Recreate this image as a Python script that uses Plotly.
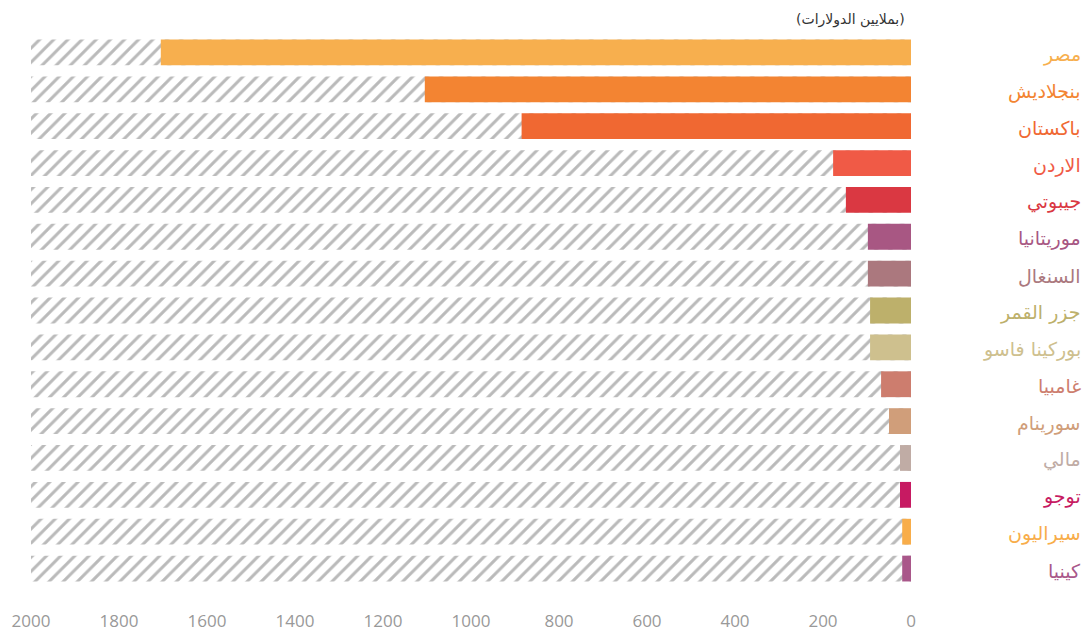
import plotly.graph_objects as go

# Countries (top to bottom), values in millions of dollars
countries = ["مصر", "بنجلاديش", "باكستان", "الاردن", "جيبوتي", "موريتانيا", "السنغال",
             "جزر القمر", "بوركينا فاسو", "غامبيا", "سورينام", "مالي", "توجو", "سيراليون", "كينيا"]
values = [1705, 1105, 885, 177, 148, 98, 98, 93, 93, 68, 50, 25, 25, 20, 20]
colors = ["#F7AF4E", "#F38432", "#F06832", "#F05A46", "#DA3842", "#A85783", "#AB787E",
          "#BDB06B", "#CEC08E", "#CD7D6E", "#D09E7A", "#C0ACA5", "#C71A62", "#F8AD4A", "#A9578A"]
axis_max = 2000
tick_values = [2000, 1800, 1600, 1400, 1200, 1000, 800, 600, 400, 200, 0]
unit_label = "(بملايين الدولارات)"

fig = go.Figure()

# hatched full-length background bars
fig.add_trace(go.Bar(
    y=countries, x=[axis_max] * len(countries), orientation="h",
    width=0.7,
    marker=dict(color="white", line=dict(width=0),
                pattern=dict(shape="/", fgcolor="#bababa", bgcolor="white",
                             size=10, solidity=0.3, fillmode="replace")),
    hoverinfo="skip", showlegend=False,
))

# value bars
fig.add_trace(go.Bar(
    y=countries, x=values, orientation="h",
    width=0.7,
    marker=dict(color=colors, line=dict(width=0)),
    showlegend=False,
))

# country labels on the right
for c, col in zip(countries, colors):
    fig.add_annotation(
        x=1.1955, xref="paper", y=c, yref="y", yshift=-2,
        text=c, showarrow=False, xanchor="right", yanchor="middle",
        font=dict(family="DejaVu Sans", size=19, color=col),
    )

fig.add_annotation(
    x=0.995, xref="paper", y=1.0, yref="paper", yanchor="bottom", yshift=4,
    text=unit_label, showarrow=False, xanchor="right",
    font=dict(family="DejaVu Sans", size=14, color="#333333"),
)

fig.update_layout(
    width=1085, height=634,
    margin=dict(l=31, r=174, t=34, b=47),
    paper_bgcolor="white", plot_bgcolor="white",
    barmode="overlay", bargap=0.3,
    xaxis=dict(range=[axis_max, 0], tickvals=tick_values, showgrid=False, zeroline=False,
               showline=False, ticks="", ticklabelstandoff=22, automargin=False,
               tickfont=dict(family="Open Sans", size=17, color="#999999")),
    yaxis=dict(autorange="reversed", showticklabels=False, showgrid=False,
               zeroline=False, showline=False, ticks="", automargin=False),
)

fig.write_html("out.html")
